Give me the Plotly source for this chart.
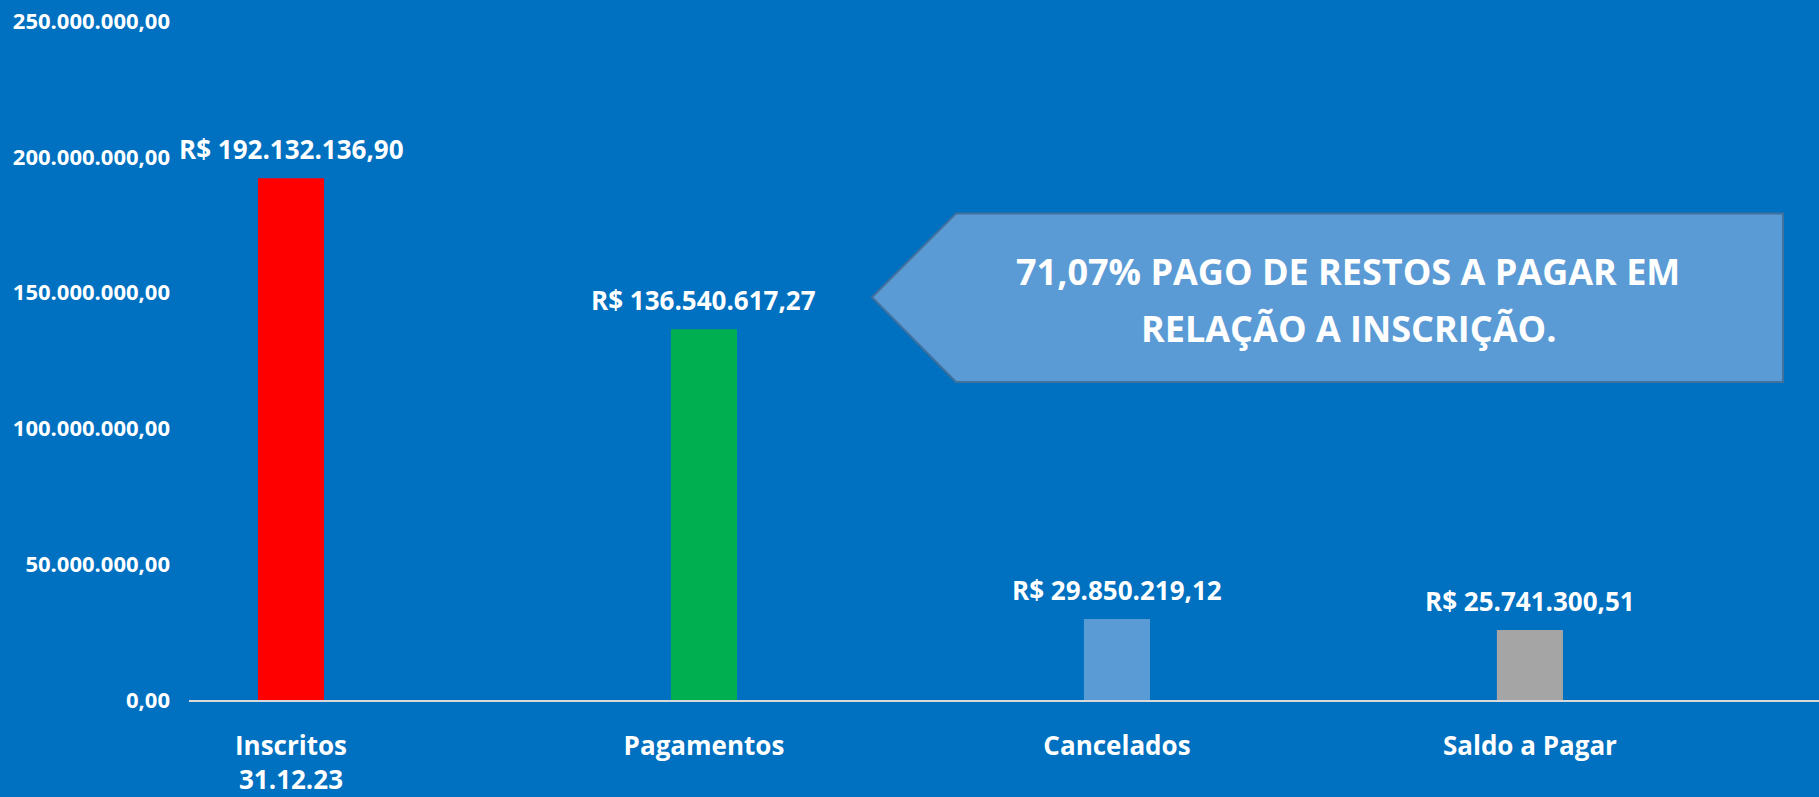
import plotly.graph_objects as go

categories = ["Inscritos<br>31.12.23", "Pagamentos", "Cancelados", "Saldo a Pagar"]
values = [192132136.90, 136540617.27, 29850219.12, 25741300.51]
bar_colors = ["#FF0000", "#00B050", "#5B9BD5", "#A5A5A5"]
y_ticks = [0, 50000000, 100000000, 150000000, 200000000, 250000000]
callout_lines = ["71,07% PAGO DE RESTOS A PAGAR EM", "RELAÇÃO A INSCRIÇÃO."]


def br(v):
    s = f"{v:,.2f}"
    return s.replace(",", "X").replace(".", ",").replace("X", ".")


FONT = "Open Sans"
BG = "#0070C0"
W, H = 1819, 797
L, R, T, B = 189, 0, 21, 95
pw, ph = W - L - R, H - T - B


def px(x):
    return (x - L) / pw


def py(y):
    return (H - B - y) / ph


fig = go.Figure()
fig.add_trace(go.Bar(
    x=categories, y=values, marker=dict(color=bar_colors, line=dict(width=0)),
    width=0.16, hoverinfo="skip",
))

for c, v in zip(categories, values):
    fig.add_annotation(
        x=c, y=v, xref="x", yref="y", text="<b>R$ " + br(v) + "</b>",
        showarrow=False, yanchor="middle", xanchor="center", yshift=29,
        font=dict(family=FONT, size=26, color="white"),
    )

# callout shape (left-pointing pentagon arrow)
tip = (872, 298)
rl, rr, rt, rb = 956, 1783, 214, 383
path = (f"M {px(tip[0])} {py(tip[1])} L {px(rl)} {py(rt)} L {px(rr)} {py(rt)} "
        f"L {px(rr)} {py(rb)} L {px(rl)} {py(rb)} Z")
fig.add_shape(type="path", path=path, xref="paper", yref="paper",
              fillcolor="#5B9BD5", line=dict(color="#41719C", width=2), layer="above")

for line, yc in zip(callout_lines, [272, 329]):
    fig.add_annotation(
        x=px(1348), y=py(yc), xref="paper", yref="paper", text="<b>" + line + "</b>",
        showarrow=False, xanchor="center", yanchor="middle",
        font=dict(family=FONT, size=36, color="white"),
    )

fig.update_layout(
    width=W, height=H,
    margin=dict(l=L, r=R, t=T, b=B, pad=0),
    paper_bgcolor=BG, plot_bgcolor=BG,
    showlegend=False,
    font=dict(family=FONT, color="white"),
    xaxis=dict(
        range=[-0.247, 3.70], showgrid=False, zeroline=False,
        showline=True, linecolor="#D9D9D9", linewidth=2,
        ticks="", ticklabelstandoff=22,
        tickfont=dict(family=FONT, size=26, color="white", weight="bold"),
        fixedrange=True,
    ),
    yaxis=dict(
        range=[0, 250000000], showgrid=False, zeroline=False, showline=False,
        tickvals=y_ticks, ticktext=[br(v) for v in y_ticks], ticks="",
        ticklabelstandoff=18,
        tickfont=dict(family=FONT, size=22, color="white", weight="bold"),
        fixedrange=True,
    ),
)

fig.write_html(
    "out.html",
    config={"displayModeBar": False},
    post_script="document.body.style.margin='0';document.body.style.overflow='hidden';"
                "document.body.style.background='" + BG + "';",
)
